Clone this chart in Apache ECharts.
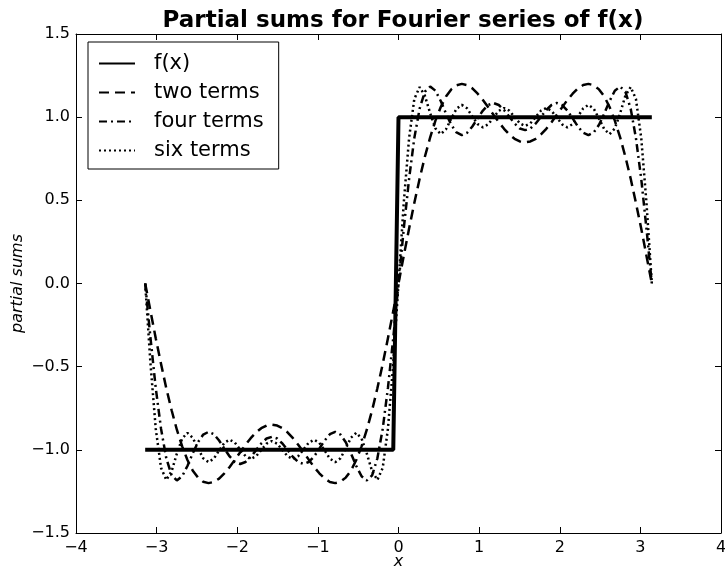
<!DOCTYPE html>
<html>
<head>
<meta charset="utf-8">
<script src="https://cdn.jsdelivr.net/npm/echarts@6/dist/echarts.min.js"></script>
<style>
  html, body { margin: 0; padding: 0; background: #fff; }
  #main { width: 725px; height: 569px; }
</style>
</head>
<body>
<div id="main"></div>
<script>
// x samples, -pi .. pi
var xs = [
  -3.142, -3.076, -3.011, -2.945, -2.880, -2.814, -2.749, -2.683, -2.618, -2.553, -2.487, -2.422,
  -2.356, -2.291, -2.225, -2.160, -2.094, -2.029, -1.963, -1.898, -1.833, -1.767, -1.702, -1.636,
  -1.571, -1.505, -1.440, -1.374, -1.309, -1.244, -1.178, -1.113, -1.047, -0.982, -0.916, -0.851,
  -0.785, -0.720, -0.654, -0.589, -0.524, -0.458, -0.393, -0.327, -0.262, -0.196, -0.131, -0.065,
  0,
  0.065, 0.131, 0.196, 0.262, 0.327, 0.393, 0.458, 0.524, 0.589, 0.654, 0.720, 0.785,
  0.851, 0.916, 0.982, 1.047, 1.113, 1.178, 1.244, 1.309, 1.374, 1.440, 1.505, 1.571,
  1.636, 1.702, 1.767, 1.833, 1.898, 1.963, 2.029, 2.094, 2.160, 2.225, 2.291, 2.356,
  2.422, 2.487, 2.553, 2.618, 2.683, 2.749, 2.814, 2.880, 2.945, 3.011, 3.076, 3.142
];

// f(x): square wave
var fX = [-3.142, -0.065, 0, 3.142];
var fY = [-1, -1, 1, 1];

// two terms
var twoTerms = [
  0, -0.166, -0.329, -0.484, -0.630, -0.762, -0.879, -0.979, -1.061, -1.124, -1.167, -1.192,
  -1.200, -1.193, -1.173, -1.141, -1.103, -1.059, -1.014, -0.970, -0.930, -0.896, -0.870, -0.854,
  -0.849, -0.854, -0.870, -0.896, -0.930, -0.970, -1.014, -1.059, -1.103, -1.141, -1.173, -1.193,
  -1.200, -1.192, -1.167, -1.124, -1.061, -0.979, -0.879, -0.762, -0.630, -0.484, -0.329, -0.166,
  0,
  0.166, 0.329, 0.484, 0.630, 0.762, 0.879, 0.979, 1.061, 1.124, 1.167, 1.192, 1.200,
  1.193, 1.173, 1.141, 1.103, 1.059, 1.014, 0.970, 0.930, 0.896, 0.870, 0.854, 0.849,
  0.854, 0.870, 0.896, 0.930, 0.970, 1.014, 1.059, 1.103, 1.141, 1.173, 1.193, 1.200,
  1.192, 1.167, 1.124, 1.061, 0.979, 0.879, 0.762, 0.630, 0.484, 0.329, 0.166, 0
];

// four terms
var fourTerms = [
  0, -0.328, -0.628, -0.874, -1.051, -1.153, -1.184, -1.159, -1.097, -1.022, -0.954, -0.908,
  -0.892, -0.906, -0.944, -0.993, -1.040, -1.073, -1.085, -1.073, -1.043, -1.002, -0.962, -0.932,
  -0.922, -0.932, -0.962, -1.002, -1.043, -1.073, -1.085, -1.073, -1.040, -0.993, -0.944, -0.906,
  -0.892, -0.908, -0.954, -1.022, -1.097, -1.159, -1.184, -1.153, -1.051, -0.874, -0.628, -0.328,
  0,
  0.328, 0.628, 0.874, 1.051, 1.153, 1.184, 1.159, 1.097, 1.022, 0.954, 0.908, 0.892,
  0.906, 0.944, 0.993, 1.040, 1.073, 1.085, 1.073, 1.043, 1.002, 0.962, 0.932, 0.922,
  0.932, 0.962, 1.002, 1.043, 1.073, 1.085, 1.073, 1.040, 0.993, 0.944, 0.906, 0.892,
  0.908, 0.954, 1.022, 1.097, 1.159, 1.184, 1.153, 1.051, 0.874, 0.628, 0.328, 0
];

// six terms
var sixTerms = [
  0, -0.483, -0.873, -1.109, -1.181, -1.129, -1.023, -0.932, -0.898, -0.927, -0.991, -1.051,
  -1.074, -1.053, -1.004, -0.958, -0.939, -0.957, -0.998, -1.038, -1.055, -1.039, -1.001, -0.963,
  -0.947, -0.963, -1.001, -1.039, -1.055, -1.038, -0.998, -0.957, -0.939, -0.958, -1.004, -1.053,
  -1.074, -1.051, -0.991, -0.927, -0.898, -0.932, -1.023, -1.129, -1.181, -1.109, -0.873, -0.483,
  0,
  0.483, 0.873, 1.109, 1.181, 1.129, 1.023, 0.932, 0.898, 0.927, 0.991, 1.051, 1.074,
  1.053, 1.004, 0.958, 0.939, 0.957, 0.998, 1.038, 1.055, 1.039, 1.001, 0.963, 0.947,
  0.963, 1.001, 1.039, 1.055, 1.038, 0.998, 0.957, 0.939, 0.958, 1.004, 1.053, 1.074,
  1.051, 0.991, 0.927, 0.898, 0.932, 1.023, 1.129, 1.181, 1.109, 0.873, 0.483, 0
];

var seriesNames = ['f(x)', 'two terms', 'four terms', 'six terms'];

function pairs(xArr, yArr) {
  var out = [];
  for (var i = 0; i < xArr.length; i++) out.push([xArr[i], yArr[i]]);
  return out;
}

// matplotlib style minus sign
function fmtX(v) { return v < 0 ? '\u2212' + Math.abs(v) : String(v); }
function fmtY(v) { return v < 0 ? '\u2212' + Math.abs(v).toFixed(1) : v.toFixed(1); }

var FONT = 'DejaVu Sans';
var myChart = echarts.init(document.getElementById('main'));

var frameAxis = {
  axisLine: { show: true, onZero: false, lineStyle: { color: '#000', width: 1 } },
  axisTick: { show: true, inside: true, length: 6, lineStyle: { color: '#000' } },
  splitLine: { show: false }
};

function lineSeries(name, data, width, type) {
  return {
    name: name,
    type: 'line',
    data: data,
    showSymbol: false,
    symbol: 'none',
    animation: false,
    lineStyle: { color: '#000', width: width, type: type, cap: 'butt' },
    itemStyle: { color: '#000' }
  };
}

var option = {
  backgroundColor: '#fff',
  animation: false,
  title: {
    text: 'Partial sums for Fourier series of f(x)',
    left: 398,
    top: 5,
    textAlign: 'center',
    textStyle: { fontFamily: FONT, fontWeight: 'bold', fontSize: 23, color: '#000' }
  },
  legend: {
    orient: 'vertical',
    left: 88,
    top: 42,
    data: seriesNames,
    itemWidth: 36,
    itemHeight: 14,
    itemGap: 8,
    padding: [11, 15, 8, 10],
    borderColor: '#000',
    borderWidth: 1,
    backgroundColor: '#fff',
    itemStyle: { opacity: 0 },
    textStyle: { fontFamily: FONT, fontSize: 21, color: '#000', padding: [0, 0, 0, 14] }
  },
  grid: { left: 76, right: 4, top: 34, bottom: 36, containLabel: false, outerBoundsMode: 'none' },
  xAxis: [
    Object.assign({
      type: 'value', min: -4, max: 4, interval: 1, position: 'bottom',
      name: 'x', nameLocation: 'middle', nameGap: 21, nameMoveOverlap: false,
      nameTextStyle: { fontFamily: FONT, fontStyle: 'italic', fontSize: 16, color: '#000' },
      axisLabel: { formatter: fmtX, fontFamily: FONT, fontSize: 16, color: '#000', margin: 7 }
    }, frameAxis),
    Object.assign({
      type: 'value', min: -4, max: 4, interval: 1, position: 'top',
      axisLabel: { show: false }
    }, frameAxis)
  ],
  yAxis: [
    Object.assign({
      type: 'value', min: -1.5, max: 1.5, interval: 0.5, position: 'left',
      name: 'partial sums', nameLocation: 'middle', nameGap: 50, nameRotate: 90, nameMoveOverlap: false,
      nameTextStyle: { fontFamily: FONT, fontStyle: 'italic', fontSize: 16, color: '#000' },
      axisLabel: { formatter: fmtY, fontFamily: FONT, fontSize: 16, color: '#000', margin: 6 }
    }, frameAxis),
    Object.assign({
      type: 'value', min: -1.5, max: 1.5, interval: 0.5, position: 'right',
      axisLabel: { show: false }
    }, frameAxis)
  ],
  series: [
    lineSeries('f(x)', pairs(fX, fY), 4, 'solid'),
    lineSeries('two terms', pairs(xs, twoTerms), 2.5, [10, 6]),
    lineSeries('four terms', pairs(xs, fourTerms), 2.5, [8, 4, 2, 4]),
    lineSeries('six terms', pairs(xs, sixTerms), 2.5, [2, 3])
  ]
};

myChart.setOption(option);
</script>
</body>
</html>
